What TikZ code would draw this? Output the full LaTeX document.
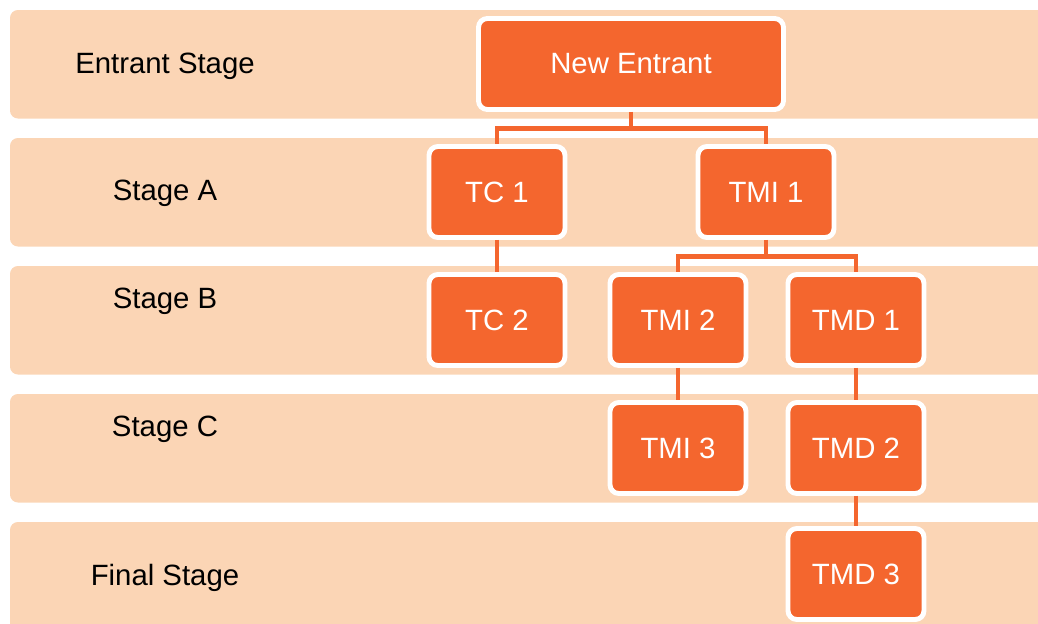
\documentclass[tikz,border=0pt]{standalone}
\usepackage{fontspec}
\setmainfont{Liberation Sans}

\definecolor{bandpeach}{RGB}{251,213,181}
\definecolor{boxorange}{RGB}{244,102,46}

\tikzset{
  stagebox/.style={draw=white, fill=boxorange, line width=2.8pt,
    rounded corners=5pt, minimum width=2.72cm, minimum height=1.82cm,
    inner sep=0pt, text=white, font=\fontsize{16.7}{20}\selectfont},
  stagelabel/.style={text=black, font=\fontsize{16.7}{20}\selectfont},
  link/.style={draw=boxorange, line width=2.7pt}
}

\begin{document}
\begin{tikzpicture}[x=0.02cm, y=-0.02cm]

    % Fix page size
    \path[use as bounding box, clip] (0, 0) rectangle (1038, 623);

    % Draw stage bands
    \foreach \y in {10, 138, 266, 394, 522}{
      \fill[bandpeach, rounded corners=4.5pt] (10, \y)
        rectangle (1080, \y + 108.5);
    }

    % Stage names
    \node[stagelabel] (lblentrant) at (165, 66) {Entrant Stage};
    \node[stagelabel] (lbla) at (165, 193) {Stage A};
    \node[stagelabel] (lblb) at (165, 301) {Stage B};
    \node[stagelabel] (lblc) at (165, 429) {Stage C};
    \node[stagelabel] (lblfinal) at (165, 578) {Final Stage};

    % Boxes
    \node[stagebox, minimum width=6.1cm] (entrant) at (631, 64) {New Entrant};
    \node[stagebox] (tc1) at (497, 192) {TC 1};
    \node[stagebox] (tmi1) at (766, 192) {TMI 1};
    \node[stagebox] (tc2) at (497, 320) {TC 2};
    \node[stagebox] (tmi2) at (678, 320) {TMI 2};
    \node[stagebox] (tmd1) at (856, 320) {TMD 1};
    \node[stagebox] (tmi3) at (678, 448) {TMI 3};
    \node[stagebox] (tmd2) at (856, 448) {TMD 2};
    \node[stagebox] (tmd3) at (856, 574) {TMD 3};

    % Connectors
    \coordinate (busentrant) at (631, 128.5);
    \coordinate (bustmi) at (766, 256.5);
    \draw[link] (entrant.south) -- (busentrant) -| (tc1.north);
    \draw[link] (busentrant) -| (tmi1.north);
    \draw[link] (tmi1.south) -- (bustmi) -| (tmi2.north);
    \draw[link] (bustmi) -| (tmd1.north);
    \draw[link] (tc1.south) -- (tc2.north);
    \draw[link] (tmi2.south) -- (tmi3.north);
    \draw[link] (tmd1.south) -- (tmd2.north);
    \draw[link] (tmd2.south) -- (tmd3.north);

  \end{tikzpicture}
\end{document}
